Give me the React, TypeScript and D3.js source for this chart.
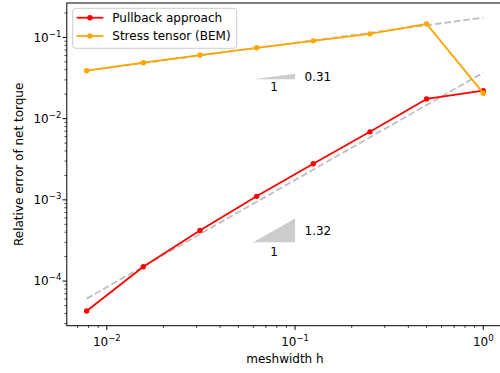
import React from "react";
import * as d3 from "d3";

// Mesh widths h = 2^-7 ... 2^0
const meshwidths = [1 / 128, 1 / 64, 1 / 32, 1 / 16, 1 / 8, 1 / 4, 1 / 2, 1];
const pullbackErrors = [4.28e-5, 1.5e-4, 4.19e-4, 1.105e-3, 2.78e-3, 6.88e-3, 1.75e-2, 2.21e-2];
const stressErrors = [0.0389, 0.0488, 0.0607, 0.0745, 0.0908, 0.1107, 0.147, 0.0206];

// Reference rates (dashed guide lines and slope triangles)
const pullbackRate = 1.32;
const stressRate = 0.31;
const pullbackRefStart = 6.08e-5;
const stressRefStart = 0.0389;
const triangleX = [0.06, 0.1];
const pullbackTriangleBase = 3.0e-4;
const stressTriangleBase = 0.0305;

const seriesNames = ["Pullback approach", "Stress tensor (BEM)"];
const seriesColors = ["#ff0000", "#ffa500"];
const xTicks = [1e-2, 1e-1, 1];
const xTickExps = ["\u22122", "\u22121", "0"];
const yTicks = [1e-4, 1e-3, 1e-2, 1e-1];
const yTickExps = ["\u22124", "\u22123", "\u22122", "\u22121"];

const W = 500;
const H = 373;
const FONT = "DejaVu Sans, sans-serif";

function padLog(lo: number, hi: number) {
  const a = Math.log10(lo);
  const b = Math.log10(hi);
  const m = (b - a) * 0.05;
  return [Math.pow(10, a - m), Math.pow(10, b + m)];
}

export default function App() {
  const left = 66.8;
  const right = 503.1;
  const top = 3;
  const bottom = 325.7;

  const h0 = meshwidths[0];
  const hN = meshwidths[meshwidths.length - 1];
  const refPull = meshwidths.map((h) => pullbackRefStart * Math.pow(h / h0, pullbackRate));
  const refStress = meshwidths.map((h) => stressRefStart * Math.pow(h / h0, stressRate));

  const allY = [...pullbackErrors, ...stressErrors, ...refPull, ...refStress];
  const x = d3.scaleLog().domain(padLog(h0, hN)).range([left, right]);
  const y = d3
    .scaleLog()
    .domain(padLog(d3.min(allY) as number, d3.max(allY) as number))
    .range([bottom, top]);

  const line = d3
    .line<[number, number]>()
    .x((d) => x(d[0]))
    .y((d) => y(d[1]));

  const [xd0, xd1] = x.domain();
  const [yd0, yd1] = y.domain();
  const minorTicks = (d0: number, d1: number) => {
    const out: number[] = [];
    for (let e = Math.floor(Math.log10(d0)); e <= Math.ceil(Math.log10(d1)); e++) {
      for (let k = 2; k <= 9; k++) {
        const v = k * Math.pow(10, e);
        if (v >= d0 && v <= d1) out.push(v);
      }
    }
    return out;
  };
  const xMinor = minorTicks(xd0, xd1);
  const yMinor = minorTicks(yd0, yd1);

  const triangle = (base: number, rate: number) => {
    const [a, b] = triangleX;
    const topY = base * Math.pow(b / a, rate);
    const pts: [number, number][] = [
      [a, base],
      [b, base],
      [b, topY],
    ];
    return { path: line(pts) + "Z", a, b, base, topY };
  };
  const triangles = [
    { ...triangle(stressTriangleBase, stressRate), label: stressRate.toFixed(2), oneDy: 11.5 },
    { ...triangle(pullbackTriangleBase, pullbackRate), label: pullbackRate.toFixed(2), oneDy: 14 },
  ];

  const series = [pullbackErrors, stressErrors];
  const refs = [refPull, refStress];
  const tickLen = 4.2;
  const minorLen = 2.4;
  const axisColor = "#000";

  return (
    <svg
      width={W}
      height={H}
      style={{ position: "absolute", left: 0, top: 0, background: "#fff" }}
      fontFamily={FONT}
    >
      <defs>
        <clipPath id="plot-area">
          <rect x={left} y={top} width={right - left} height={bottom - top} />
        </clipPath>
      </defs>
      <rect x={0} y={0} width={W} height={H} fill="#fff" />

      <g clipPath="url(#plot-area)">
        {/* dashed reference slopes */}
        {refs.map((r, i) => (
          <path
            key={"ref" + i}
            d={line(meshwidths.map((h, j) => [h, r[j]]) as [number, number][]) || ""}
            fill="none"
            stroke="#808080"
            strokeOpacity={0.5}
            strokeWidth={1.8}
            strokeDasharray="6.6,2.9"
          />
        ))}

        {/* slope triangles */}
        {triangles.map((t, i) => (
          <g key={"tri" + i}>
            <path d={t.path} fill="#cccccc" stroke="none" />
            <text
              x={x(Math.sqrt(t.a * t.b))}
              y={y(t.base) + t.oneDy}
              fontSize={12}
              textAnchor="middle"
              fill="#000"
            >
              1
            </text>
            <text
              x={x(t.b) + 9.5}
              y={(y(t.base) + y(t.topY)) / 2 + 4.3}
              fontSize={12}
              fill="#000"
            >
              {t.label}
            </text>
          </g>
        ))}

        {/* data series */}
        {series.map((s, i) => (
          <g key={"s" + i}>
            <path
              d={line(meshwidths.map((h, j) => [h, s[j]]) as [number, number][]) || ""}
              fill="none"
              stroke={seriesColors[i]}
              strokeWidth={1.8}
              strokeLinejoin="round"
            />
            {meshwidths.map((h, j) => (
              <circle key={j} cx={x(h)} cy={y(s[j])} r={2.7} fill={seriesColors[i]} />
            ))}
          </g>
        ))}
      </g>

      {/* spines */}
      <rect
        x={left}
        y={top}
        width={right - left}
        height={bottom - top}
        fill="none"
        stroke={axisColor}
        strokeWidth={1}
      />

      {/* x axis ticks */}
      {xTicks.map((t, i) => (
        <g key={"xt" + i}>
          <line x1={x(t)} x2={x(t)} y1={bottom} y2={bottom + tickLen} stroke={axisColor} strokeWidth={1} />
          <text x={x(t)} y={bottom + 20} fontSize={12} textAnchor="middle" fill="#000">
            <tspan>10</tspan>
            <tspan fontSize={8.5} dy={-5}>
              {xTickExps[i]}
            </tspan>
          </text>
        </g>
      ))}
      {xMinor.map((t, i) => (
        <line key={"xm" + i} x1={x(t)} x2={x(t)} y1={bottom} y2={bottom + minorLen} stroke={axisColor} strokeWidth={0.7} />
      ))}

      {/* y axis ticks */}
      {yTicks.map((t, i) => (
        <g key={"yt" + i}>
          <line x1={left - tickLen} x2={left} y1={y(t)} y2={y(t)} stroke={axisColor} strokeWidth={1} />
          <text x={left - 5.5} y={y(t) + 4.3} fontSize={12} textAnchor="end" fill="#000">
            <tspan>10</tspan>
            <tspan fontSize={8.5} dy={-5}>
              {yTickExps[i]}
            </tspan>
          </text>
        </g>
      ))}
      {yMinor.map((t, i) => (
        <line key={"ym" + i} x1={left - minorLen} x2={left} y1={y(t)} y2={y(t)} stroke={axisColor} strokeWidth={0.7} />
      ))}

      {/* axis labels */}
      <text x={(left + right) / 2} y={363} fontSize={12} textAnchor="middle" fill="#000">
        meshwidth h
      </text>
      <text
        transform={`translate(${22.5},${(top + bottom) / 2}) rotate(-90)`}
        fontSize={12}
        textAnchor="middle"
        fill="#000"
      >
        Relative error of net torque
      </text>

      {/* legend */}
      <g>
        <rect
          x={72.7}
          y={8.3}
          width={164}
          height={40}
          rx={3}
          fill="#fff"
          fillOpacity={0.8}
          stroke="#cccccc"
          strokeWidth={1}
        />
        {seriesNames.map((name, i) => {
          const cy = 17.7 + i * 18.3;
          return (
            <g key={"lg" + i}>
              <line x1={76.7} x2={103.3} y1={cy} y2={cy} stroke={seriesColors[i]} strokeWidth={1.8} />
              <circle cx={90} cy={cy} r={2.7} fill={seriesColors[i]} />
              <text x={112.3} y={cy + 4.3} fontSize={12} fill="#000">
                {name}
              </text>
            </g>
          );
        })}
      </g>
    </svg>
  );
}
